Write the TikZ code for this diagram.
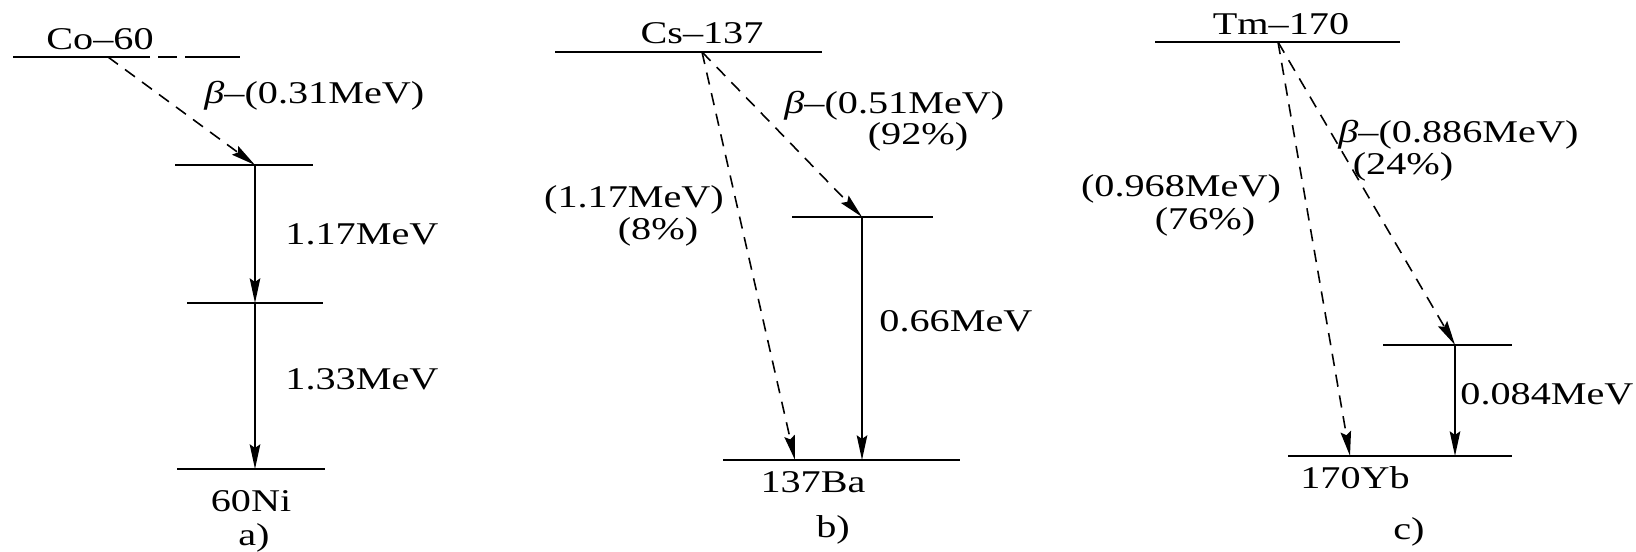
\documentclass[tikz,border=0pt]{standalone}
\usepackage{fontspec}
\setmainfont{Liberation Serif}[FakeStretch=1.27]
\usetikzlibrary{arrows.meta}

\begin{document}
\begin{tikzpicture}[x=0.01cm, y=-0.01cm, font=\fontsize{9}{11}\selectfont,
  every node/.style={inner sep=0.5pt},
  lvl/.style={line width=0.7pt},
  gline/.style={-{Stealth[length=7pt,width=3pt,inset=1pt]}, line width=0.45pt},
  bline/.style={gline, dash pattern=on 3.5pt off 2.5pt}]
  \fill[white] (0,0) rectangle (1636,552);
  \useasboundingbox (0,0) rectangle (1636,552);

  % a) Co-60
  \draw[lvl] (13,57) -- (150,57);
  \draw[lvl] (158,57) -- (177,57);
  \draw[lvl] (185,57) -- (240,57);
  \draw[lvl] (175,165) -- (313,165);
  \draw[lvl] (187,303) -- (323,303);
  \draw[lvl] (177,469) -- (325,469);
  \coordinate (a0) at (108,57);
  \coordinate (a1) at (255,165);
  \coordinate (a2) at (255,303);
  \coordinate (a3) at (255,469);
  \node (co) at (100,39) {Co--60};
  \node (ani) at (251,501) {60Ni};
  \node (acap) at (254,538) {a)};
  \draw[bline] (a0) -- (a1);
  \draw[gline] (a1) -- (a2);
  \draw[gline] (a2) -- (a3);
  \node[anchor=west] (ab) at (202,96) {\textit{β}--(0.31MeV)};
  \node[anchor=west] (ag1) at (283,234) {1.17MeV};
  \node[anchor=west] (ag2) at (283,379) {1.33MeV};

  % b) Cs-137
  \draw[lvl] (555,52) -- (822,52);
  \draw[lvl] (792,217) -- (933,217);
  \draw[lvl] (723,460) -- (960,460);
  \coordinate (b0) at (702,52);
  \coordinate (b1) at (862,217);
  \coordinate (b2) at (795,460);
  \coordinate (b3) at (862,460);
  \node (cs) at (702,33) {Cs--137};
  \node (bba) at (813,482) {137Ba};
  \node (bcap) at (833,530) {b)};
  \draw[bline] (b0) -- (b1);
  \draw[bline] (b0) -- (b2);
  \draw[gline] (b1) -- (b3);
  \node[anchor=west] (bb) at (782,106) {\textit{β}--(0.51MeV)};
  \node (bp) at (918,137) {(92\%)};
  \node (bg) at (634,200) {(1.17MeV)};
  \node (bq) at (658,232) {(8\%)};
  \node[anchor=west] (bg2) at (877,321) {0.66MeV};

  % c) Tm-170
  \draw[lvl] (1155,42) -- (1400,42);
  \draw[lvl] (1383,345) -- (1512,345);
  \draw[lvl] (1288,456) -- (1512,456);
  \coordinate (c0) at (1278,42);
  \coordinate (c1) at (1455,345);
  \coordinate (c2) at (1350,456);
  \coordinate (c3) at (1455,456);
  \node (tm) at (1281,24) {Tm--170};
  \node (cyb) at (1355,478) {170Yb};
  \node (ccap) at (1409,532) {c)};
  \draw[bline] (c0) -- (c1);
  \draw[bline] (c0) -- (c2);
  \draw[gline] (c1) -- (c3);
  \node[anchor=west] (cb) at (1336,135) {\textit{β}--(0.886MeV)};
  \node (cp) at (1403,167) {(24\%)};
  \node (cg) at (1181,189) {(0.968MeV)};
  \node (cq) at (1205,222) {(76\%)};
  \node[anchor=west] (cg2) at (1458,394) {0.084MeV};
\end{tikzpicture}
\end{document}
